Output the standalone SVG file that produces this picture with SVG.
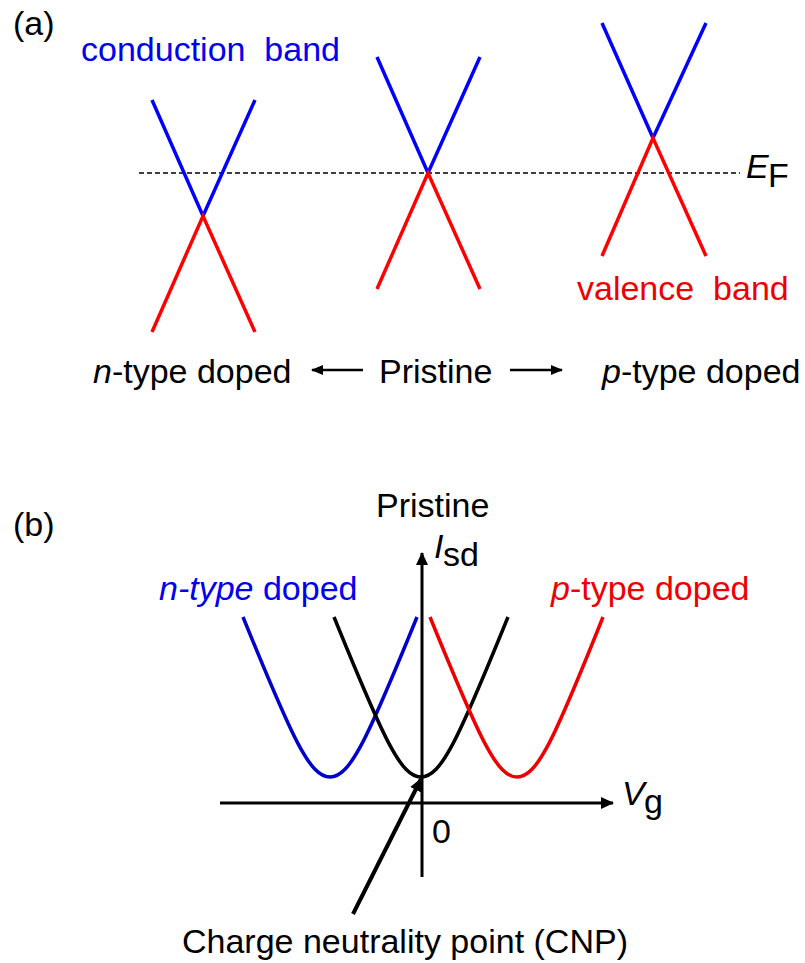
<svg xmlns="http://www.w3.org/2000/svg" width="805" height="963" viewBox="0 0 805 963">
<style>
text{font-family:"Liberation Sans",Arial,sans-serif;font-size:34px;fill:#000}
.blue{fill:#0000ee}
.red{fill:#ee0000}
.cb{stroke:#0000ff;stroke-width:3.5;fill:none}
.vb{stroke:#ff0000;stroke-width:3.5;fill:none}
.ax{stroke:#000;stroke-width:3;fill:none}
.it{font-style:italic}
</style>
<defs>
<marker id="ah" markerUnits="userSpaceOnUse" markerWidth="14" markerHeight="12" refX="12" refY="6" orient="auto">
<path d="M0,0 L13,6 L0,12 Z" fill="#000"/>
</marker>
<marker id="ahs" markerUnits="userSpaceOnUse" markerWidth="13" markerHeight="10" refX="11" refY="5" orient="auto">
<path d="M0,0 L12,5 L0,10 Z" fill="#000"/>
</marker>
</defs>

<!-- Panel (a) -->
<text id="label-a" x="13" y="35">(a)</text>
<text id="conduction-label" class="blue" x="81" y="61" xml:space="preserve">conduction  band</text>
<text id="valence-label" class="red" x="577" y="300" xml:space="preserve">valence  band</text>

<g id="fermi-level">
<line x1="139" y1="173" x2="740" y2="173" stroke="#000" stroke-width="1.5" stroke-dasharray="5,3"/>
<text x="746" y="178" class="it" font-size="32">E</text>
<text x="768" y="187" font-size="20">F</text>
</g>

<g id="cone-n">
<polyline class="cb" points="152,100 203,216 255,100"/>
<polyline class="vb" points="152,332 203,216 255,332"/>
</g>
<g id="cone-pristine">
<polyline class="cb" points="377,57 428,173 480,57"/>
<polyline class="vb" points="377,289 428,173 480,289"/>
</g>
<g id="cone-p">
<polyline class="cb" points="602,23 653,138 706,23"/>
<polyline class="vb" points="602,256 653,138 706,256"/>
</g>

<g id="label-n-a"><text x="93" y="383"><tspan class="it">n</tspan>-type doped</text></g>
<g id="label-pristine-a"><text x="379" y="383">Pristine</text></g>
<g id="label-p-a"><text x="602" y="383"><tspan class="it">p</tspan>-type doped</text></g>

<g id="connectors-a">
<line x1="363" y1="370" x2="312" y2="370" stroke="#000" stroke-width="2.5" marker-end="url(#ahs)"/>
<line x1="510" y1="370" x2="562" y2="370" stroke="#000" stroke-width="2.5" marker-end="url(#ahs)"/>
</g>

<!-- Panel (b) -->
<text id="label-b" x="13" y="536">(b)</text>
<text id="pristine-b" x="376" y="517">Pristine</text>
<text id="n-doped-b" class="blue" x="159" y="600"><tspan class="it">n-type</tspan> doped</text>
<text id="p-doped-b" class="red" x="551" y="600"><tspan class="it">p</tspan>-type doped</text>

<g id="axes">
<line class="ax" x1="422" y1="877" x2="422" y2="553" marker-end="url(#ah)"/>
<line class="ax" x1="220" y1="803" x2="613" y2="803" marker-end="url(#ah)"/>
<text x="434" y="558" class="it" font-size="29">I</text>
<text x="443" y="566" font-size="22">sd</text>
<text x="622" y="805" class="it" font-size="32">V</text>
<text x="644" y="813" font-size="22">g</text>
<text x="432" y="843" font-size="30">0</text>
</g>

<g id="curve-n">
<path d="M243,617 C293,740 310,777 330,777 C350,777 367,740 417,617" stroke="#0000cc" stroke-width="3.5" fill="none"/>
</g>
<g id="curve-pristine">
<path d="M334,617 C384,740 401,777 421,777 C441,777 458,740 508,617" stroke="#000" stroke-width="3.5" fill="none"/>
</g>
<g id="curve-p">
<path d="M430,617 C480,740 497,777 517,777 C537,777 554,740 603,617" stroke="#ee0000" stroke-width="3.5" fill="none"/>
</g>

<g id="connectors-b">
<line x1="353" y1="914" x2="421" y2="779" stroke="#000" stroke-width="4" marker-end="url(#ah)"/>
</g>
<text id="cnp-label" x="182" y="953">Charge neutrality point (CNP)</text>
</svg>
